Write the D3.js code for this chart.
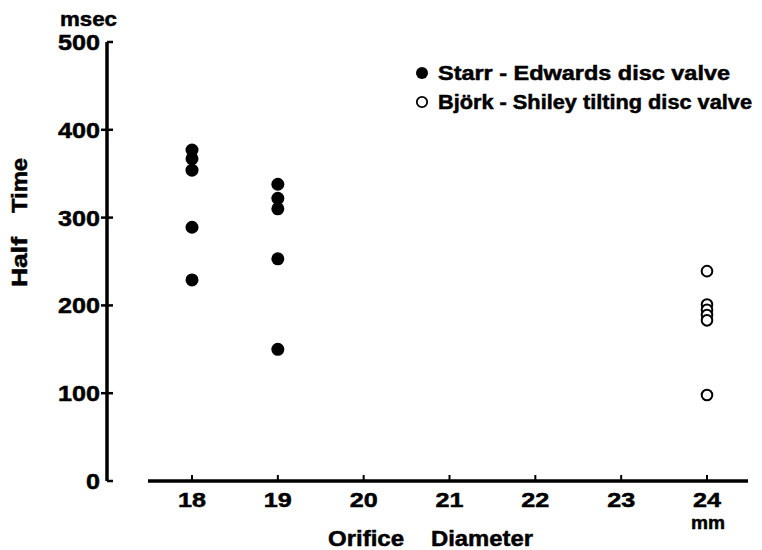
<!DOCTYPE html>
<html lang="en">
<head>
    <meta charset="UTF-8">
    <title>Half Time vs Orifice Diameter</title>
    <script src="https://d3js.org/d3.v7.min.js"></script>
    <style>
        body { margin: 0; background: #fff; }
        svg text {
            font-family: 'Liberation Sans', Arial, sans-serif;
            font-weight: bold;
            fill: #000;
            stroke: #000;
            stroke-width: 0.5px;
        }
    </style>
</head>
<body>
<svg height="550" width="762"></svg>
<script>
    // values (msec)
    const starrDiam = [18, 18, 18, 18, 18, 19, 19, 19, 19, 19];
    const starrHalfTime = [377, 367, 354, 289, 229, 338, 322, 310, 253, 150];
    const bjorkDiam = [24, 24, 24, 24, 24, 24];
    const bjorkHalfTime = [239, 201, 195, 189, 183, 98];

    const xTicks = [18, 19, 20, 21, 22, 23, 24];
    const yTicks = [0, 100, 200, 300, 400, 500];
    const legendLabels = ["Starr - Edwards disc valve", "Björk - Shiley tilting disc valve"];

    const svg = d3.select("svg");
    const x = d3.scaleLinear().domain([18, 24]).range([192, 707]);
    const y = d3.scaleLinear().domain([0, 500]).range([481, 42]);

    // y axis
    const yAxis = svg.append("g").attr("transform", "translate(107,0)");
    yAxis.append("line").attr("x1", 0).attr("x2", 0)
        .attr("y1", y(500)).attr("y2", y(0))
        .attr("stroke", "#000").attr("stroke-width", 3.5);
    yAxis.selectAll("line.tick").data(yTicks).enter().append("line")
        .attr("class", "tick")
        .attr("x1", d => (d === 0 || d === 500) ? 0 : -6).attr("x2", 6)
        .attr("y1", y).attr("y2", y)
        .attr("stroke", "#000").attr("stroke-width", 2.5);
    yAxis.selectAll("text").data(yTicks).enter().append("text")
        .attr("x", -7).attr("y", d => y(d) + 8)
        .attr("text-anchor", "end")
        .style("font-size", "22px")
        .attr("textLength", d => String(d).length * 14)
        .attr("lengthAdjust", "spacingAndGlyphs")
        .text(d => d);
    svg.append("text").attr("x", 60).attr("y", 26)
        .style("font-size", "21px")
        .attr("textLength", 57).attr("lengthAdjust", "spacingAndGlyphs")
        .text("msec");

    // x axis
    const xAxis = svg.append("g").attr("transform", "translate(0,481)");
    xAxis.append("line").attr("x1", 148).attr("x2", 748)
        .attr("y1", 0).attr("y2", 0)
        .attr("stroke", "#000").attr("stroke-width", 3.5);
    xAxis.selectAll("line.tick").data(xTicks).enter().append("line")
        .attr("class", "tick")
        .attr("x1", x).attr("x2", x).attr("y1", 0).attr("y2", -6)
        .attr("stroke", "#000").attr("stroke-width", 2);
    xAxis.selectAll("text").data(xTicks).enter().append("text")
        .attr("x", x).attr("y", 26)
        .attr("text-anchor", "middle")
        .style("font-size", "21px")
        .attr("textLength", 28).attr("lengthAdjust", "spacingAndGlyphs")
        .text(d => d);
    xAxis.append("text").attr("x", x(24) + 1).attr("y", 48)
        .attr("text-anchor", "middle").style("font-size", "19px")
        .attr("textLength", 34).attr("lengthAdjust", "spacingAndGlyphs")
        .text("mm");

    // axis titles
    svg.append("text").attr("x", 328).attr("y", 546)
        .style("font-size", "22px")
        .attr("textLength", 76).attr("lengthAdjust", "spacingAndGlyphs")
        .text("Orifice");
    svg.append("text").attr("x", 431).attr("y", 546)
        .style("font-size", "22px")
        .attr("textLength", 102).attr("lengthAdjust", "spacingAndGlyphs")
        .text("Diameter");
    const yTitle = svg.append("g").attr("transform", "translate(27,0) rotate(-90)");
    yTitle.append("text").attr("x", -287).attr("y", 0)
        .style("font-size", "22px")
        .attr("textLength", 50).attr("lengthAdjust", "spacingAndGlyphs")
        .text("Half");
    yTitle.append("text").attr("x", -213).attr("y", 0)
        .style("font-size", "22px")
        .attr("textLength", 55).attr("lengthAdjust", "spacingAndGlyphs")
        .text("Time");

    // points
    svg.append("g").selectAll("circle").data(starrHalfTime).enter().append("circle")
        .attr("cx", (d, i) => x(starrDiam[i]))
        .attr("cy", d => y(d))
        .attr("r", 6.5)
        .attr("fill", "#000");
    svg.append("g").selectAll("circle").data(bjorkHalfTime).enter().append("circle")
        .attr("cx", (d, i) => x(bjorkDiam[i]))
        .attr("cy", d => y(d))
        .attr("r", 5.3)
        .attr("fill", "#fff")
        .attr("stroke", "#000").attr("stroke-width", 2);

    // legend
    const legendWidths = [292, 314];
    const legend = svg.append("g").attr("transform", "translate(422,73)");
    legendLabels.forEach((label, i) => {
        const row = legend.append("g").attr("transform", `translate(0,${i * 29})`);
        row.append("circle").attr("r", i === 0 ? 6 : 5.2)
            .attr("fill", i === 0 ? "#000" : "#fff")
            .attr("stroke", "#000").attr("stroke-width", i === 0 ? 0 : 1.8);
        row.append("text").attr("x", 16).attr("y", 7)
            .style("font-size", "20px")
            .attr("textLength", legendWidths[i]).attr("lengthAdjust", "spacingAndGlyphs")
            .text(label);
    });
</script>
</body>
</html>
